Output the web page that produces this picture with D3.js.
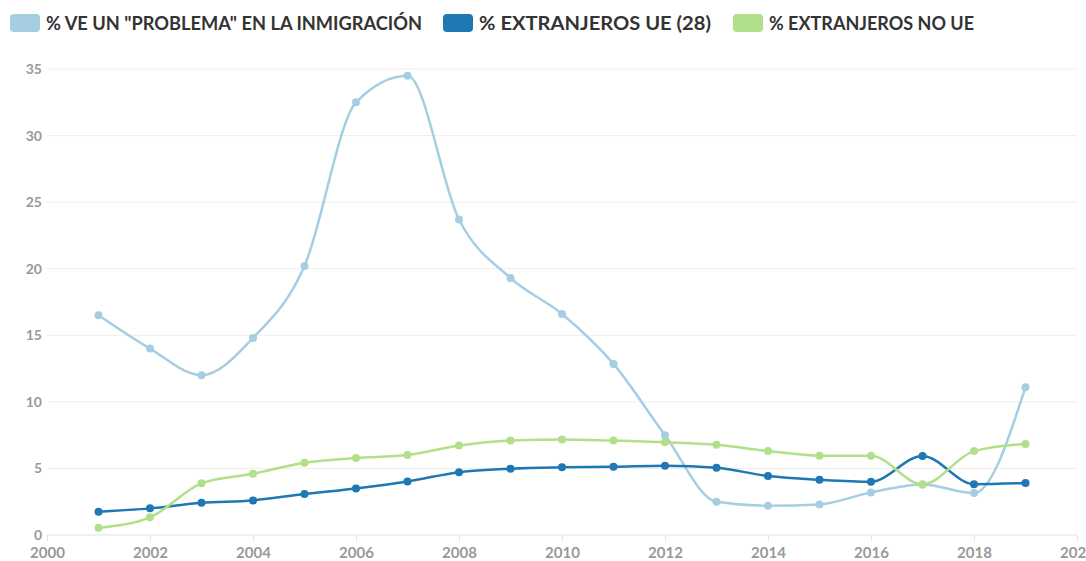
<!DOCTYPE html>
<html>
<head>
<meta charset="utf-8">
<script src="https://cdn.jsdelivr.net/npm/d3@7"></script>
<style>
  body { margin: 0; background: #fff; font-family: Lato, "Open Sans", sans-serif; }
  svg { display: block; }
</style>
</head>
<body>
<svg id="chart"></svg>
<script>
const years = [2001, 2002, 2003, 2004, 2005, 2006, 2007, 2008, 2009, 2010,
               2011, 2012, 2013, 2014, 2015, 2016, 2017, 2018, 2019];
const problema = [16.5, 14.0, 12.0, 14.8, 20.2, 32.5, 34.5, 23.7, 19.3, 16.6,
                  12.85, 7.5, 2.5, 2.2, 2.3, 3.2, 3.8, 3.15, 11.1];
const extranjerosUE = [1.75, 2.0, 2.42, 2.6, 3.08, 3.5, 4.02, 4.72, 4.98, 5.08,
                       5.12, 5.2, 5.05, 4.43, 4.15, 4.0, 5.94, 3.82, 3.9];
const extranjerosNoUE = [0.55, 1.33, 3.88, 4.6, 5.42, 5.78, 6.0, 6.72, 7.1, 7.18,
                         7.09, 6.97, 6.78, 6.31, 5.96, 5.96, 3.8, 6.3, 6.84];
const seriesNames = ['% VE UN "PROBLEMA" EN LA INMIGRACIÓN', '% EXTRANJEROS UE (28)', '% EXTRANJEROS NO UE'];
const seriesColors = ["#a6cee3", "#1f78b4", "#b2df8a"];
const xTicks = [2000, 2002, 2004, 2006, 2008, 2010, 2012, 2014, 2016, 2018, 2020];
const yTicks = [0, 5, 10, 15, 20, 25, 30, 35];

const W = 1086, H = 561;
const margin = { top: 69, right: 9, bottom: 26, left: 47 },
      width = W - margin.left - margin.right,
      height = H - margin.top - margin.bottom;

const svg = d3.select("#chart").attr("width", W).attr("height", H);

// legend (positions and widths)
const legendX = [10, 443, 733];
const legendW = [376, 232, 205];
const legend = svg.append("g");
seriesNames.forEach((name, i) => {
  legend.append("rect")
    .attr("x", legendX[i]).attr("y", 14)
    .attr("width", 30).attr("height", 18)
    .attr("rx", 4)
    .attr("fill", seriesColors[i]);
  legend.append("text")
    .attr("x", legendX[i] + 36).attr("y", 30)
    .attr("fill", "#333")
    .attr("textLength", legendW[i])
    .attr("lengthAdjust", "spacingAndGlyphs")
    .style("font-size", "19px")
    .style("font-weight", "bold")
    .text(name);
});

const g = svg.append("g").attr("transform", `translate(${margin.left},${margin.top})`);

const x = d3.scaleLinear().domain([2000, 2020]).range([0, width]);
const y = d3.scaleLinear().domain([0, 35]).range([height, 0]);

// gridlines
g.append("g")
  .selectAll("line")
  .data(yTicks)
  .enter().append("line")
  .attr("x1", 0).attr("x2", width)
  .attr("y1", d => y(d)).attr("y2", d => y(d))
  .attr("stroke", d => d === 0 ? "#e3e3e3" : "#eeeeee")
  .attr("stroke-width", 1);

// y labels
const yAxis = g.append("g")
  .call(d3.axisLeft(y).tickValues(yTicks).tickSize(0).tickPadding(5));
yAxis.select(".domain").remove();
yAxis.selectAll("text")
  .attr("fill", "#999")
  .style("font-family", "Lato, sans-serif")
  .style("font-size", "14px")
  .style("font-weight", "bold");

// x axis
const xAxis = g.append("g")
  .attr("transform", `translate(0,${height})`)
  .call(d3.axisBottom(x).tickValues(xTicks).tickFormat(d3.format("d")).tickSize(6).tickPadding(6));
xAxis.select(".domain").remove();
xAxis.selectAll("line").attr("stroke", "#e3e3e3");
xAxis.selectAll("text")
  .attr("fill", "#999")
  .style("font-family", "Lato, sans-serif")
  .style("font-size", "15px")
  .style("font-weight", "bold");

const line = d3.line()
  .x(d => x(d[0]))
  .y(d => y(d[1]))
  .curve(d3.curveMonotoneX);

[problema, extranjerosUE, extranjerosNoUE].forEach((vals, i) => {
  const data = years.map((yr, j) => [yr, vals[j]]);
  const s = g.append("g");
  s.append("path")
    .datum(data)
    .attr("fill", "none")
    .attr("stroke", seriesColors[i])
    .attr("stroke-width", 2.5)
    .attr("d", line);
  s.selectAll("circle")
    .data(data)
    .enter().append("circle")
    .attr("cx", d => x(d[0]))
    .attr("cy", d => y(d[1]))
    .attr("r", 4)
    .attr("fill", seriesColors[i]);
});
</script>
</body>
</html>
